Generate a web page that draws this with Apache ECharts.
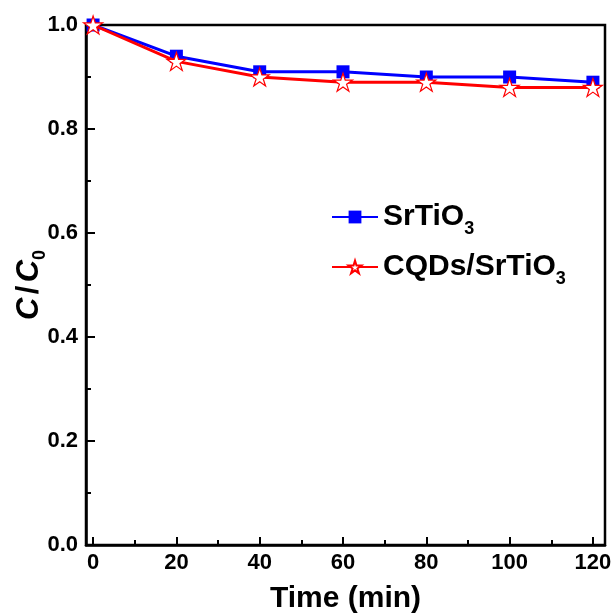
<!DOCTYPE html>
<html>
<head>
<meta charset="utf-8">
<script src="https://cdn.jsdelivr.net/npm/echarts@6/dist/echarts.min.js"></script>
<style>html,body{margin:0;padding:0;background:#fff}#c{width:614px;height:614px}</style>
</head>
<body>
<div id="c"></div>
<script>
var times = [0, 20, 40, 60, 80, 100, 120];
var srtio3 = [1.0, 0.94, 0.91, 0.91, 0.90, 0.90, 0.89];
var cqds = [1.0, 0.93, 0.90, 0.89, 0.89, 0.88, 0.88];
var seriesNames = ['SrTiO3', 'CQDs/SrTiO3'];
var xMajorTicks = [0, 20, 40, 60, 80, 100, 120];
var xMinorTicks = [10, 30, 50, 70, 90, 110];

var starPath = 'path://M50 0 L61.17 34.63 L97.55 34.55 L68.07 55.87 L79.39 90.45 L50 69 L20.61 90.45 L31.93 55.87 L2.45 34.55 L38.83 34.63 Z';
var FONT = 'Liberation Sans, Arial, sans-serif';

function pairs(xs, ys) { return xs.map(function (x, i) { return [x, ys[i]]; }); }

var chart = echarts.init(document.getElementById('c'));
chart.setOption({
  animation: false,
  backgroundColor: '#fff',
  grid: { left: 86, right: 9, top: 25, bottom: 69, containLabel: false, outerBoundsMode: 'none', show: true, borderColor: '#000', borderWidth: 2.5, backgroundColor: 'transparent' },
  legend: {
    orient: 'vertical',
    left: 326,
    top: 191,
    itemWidth: 46,
    itemHeight: 16,
    itemGap: 8,
    data: seriesNames,
    formatter: function (n) { return '{b|' + n.slice(0, -1) + '}{s|' + n.slice(-1) + '}'; },
    textStyle: {
      rich: {
        b: { fontFamily: FONT, fontWeight: 'bold', fontSize: 30, color: '#000', lineHeight: 38 },
        s: { fontFamily: FONT, fontWeight: 'bold', fontSize: 18, color: '#000', lineHeight: 38, padding: [24, 0, 0, 0] }
      }
    }
  },
  xAxis: [{
    type: 'value', min: -1.7, max: 122.9, position: 'bottom',
    name: 'Time (min)', nameLocation: 'middle', nameGap: 39, nameMoveOverlap: false,
    nameTextStyle: { fontFamily: FONT, fontWeight: 'bold', fontSize: 30, color: '#000' },
    axisLine: { show: true, onZero: false, lineStyle: { color: '#000', width: 2.5 } },
    axisTick: { show: true, inside: true, length: 8, lineStyle: { color: '#000', width: 2 }, customValues: xMajorTicks },
    axisLabel: { fontFamily: FONT, fontWeight: 'bold', fontSize: 22, color: '#000', margin: 7, customValues: xMajorTicks },
    splitLine: { show: false }
  }, {
    type: 'value', min: -1.7, max: 122.9, position: 'bottom',
    axisLine: { show: false, onZero: false },
    axisTick: { show: true, inside: true, length: 5, lineStyle: { color: '#000', width: 2 }, customValues: xMinorTicks },
    axisLabel: { show: false },
    splitLine: { show: false }
  }],
  yAxis: {
    type: 'value', min: 0, max: 1, interval: 0.2,
    name: '{i|C} {n|/} {i|C}{s|0}', nameLocation: 'middle', nameGap: 38, nameRotate: 90, nameMoveOverlap: false,
    nameTextStyle: {
      rich: {
        i: { fontFamily: FONT, fontWeight: 'bold', fontStyle: 'italic', fontSize: 31, color: '#000', lineHeight: 38 },
        n: { fontFamily: FONT, fontWeight: 'bold', fontSize: 31, color: '#000', lineHeight: 38 },
        s: { fontFamily: FONT, fontWeight: 'bold', fontSize: 18, color: '#000', lineHeight: 38, padding: [22, 0, 0, 0] }
      }
    },
    axisLine: { show: true, onZero: false, lineStyle: { color: '#000', width: 2.5 } },
    axisTick: { show: true, inside: true, length: 9, lineStyle: { color: '#000', width: 2 } },
    minorTick: { show: true, splitNumber: 2, length: 5, lineStyle: { color: '#000', width: 2 } },
    axisLabel: { fontFamily: FONT, fontWeight: 'bold', fontSize: 22, color: '#000', margin: 8, formatter: function (v) { return v.toFixed(1); } },
    splitLine: { show: false }
  },
  series: [{
    name: seriesNames[0], type: 'line', data: pairs(times, srtio3),
    symbol: 'rect', symbolSize: 13,
    lineStyle: { color: '#0000ff', width: 3 },
    itemStyle: { color: '#0000ff' },
    z: 2
  }, {
    name: seriesNames[1], type: 'line', data: pairs(times, cqds),
    symbol: starPath, symbolSize: [19, 18],
    lineStyle: { color: '#ff0000', width: 3 },
    itemStyle: { color: '#ffffff', borderColor: '#ff0000', borderWidth: 1.2 },
    z: 3
  }]
});
</script>
</body>
</html>
